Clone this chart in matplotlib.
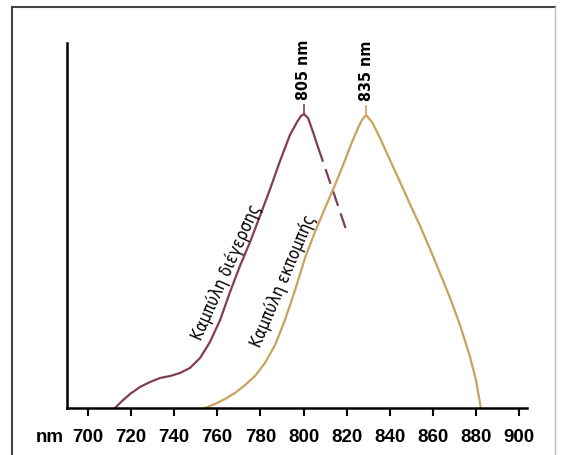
import numpy as np
from matplotlib import pyplot as plt
from matplotlib.lines import Line2D

# Excitation curve (solid part), nm / relative intensity
exc_nm = [712.5, 715.8, 719.5, 724.1, 728.8, 733.4, 738.1, 742.7, 747.3, 752.0, 756.6, 761.3,
          765.9, 770.5, 775.2, 779.8, 784.5, 789.1, 793.7, 797.0, 798.8, 800.2, 802.1, 804.4, 806.7]
exc_val = [0, 7, 14, 21, 26, 30, 32, 35, 40, 50, 66, 88,
           116, 142, 166, 192, 219, 247, 273, 286, 292, 294, 290, 276, 261]
# Excitation curve, dashed tail
exc_tail_nm = [806.7, 813.7, 820.6]
exc_tail_val = [261, 217, 173]

# Emission curve
emi_nm = [754.3, 758.9, 763.6, 768.2, 772.9, 777.5, 782.1, 786.8, 791.4, 796.1, 800.7, 805.3,
          810.0, 814.6, 819.3, 822.5, 825.3, 827.1, 829.0, 831.8, 835.5, 840.1, 844.8, 849.4,
          854.1, 858.7, 863.3, 868.0, 872.6, 877.3, 880.0, 882.3]
emi_val = [0, 4, 9, 15, 23, 32, 45, 63, 88, 118, 150, 176,
           200, 223, 248, 266, 280, 288, 293, 286, 270, 248, 226, 204,
           182, 159, 135, 110, 83, 51, 28, 0]

x_ticks = [700, 720, 740, 760, 780, 800, 820, 840, 860, 880, 900]
peak_labels = ["805 nm", "835 nm"]
curve_labels = ["Καμπύλη διέγερσης", "Καμπύλη εκπομπής"]

c_exc = "#823d55"
c_emi = "#c9a35c"
narrow = ["DejaVu Sans", "Liberation Sans"]

fig = plt.figure(figsize=(5.61, 4.55), dpi=100)
ax = fig.add_axes([67 / 561, 47 / 455, 460 / 561, 365 / 455])

ax.plot(exc_nm, exc_val, color=c_exc, lw=1.6, solid_joinstyle="round", solid_capstyle="round")
ax.plot(exc_tail_nm, exc_tail_val, color=c_exc, lw=1.6, dashes=(7, 3.5))
ax.plot(emi_nm, emi_val, color=c_emi, lw=1.6, solid_joinstyle="round", solid_capstyle="round")

# peak marks and labels
for nm, val, lab, col in [(exc_nm[int(np.argmax(exc_val))], max(exc_val), peak_labels[0], c_exc),
                          (emi_nm[int(np.argmax(emi_val))], max(emi_val), peak_labels[1], c_emi)]:
    ax.plot([nm, nm], [val, val + 9], color=col, lw=1.2)
    ax.text(nm, val + 14, lab, rotation=90, ha="center", va="bottom",
            fontsize=11.5, fontweight="bold", fontstretch="condensed", family=narrow)

ax.text(764.3, 136, curve_labels[0], rotation=66, ha="center", va="center",
        rotation_mode="anchor", fontsize=12, fontstretch="condensed", family=narrow)
ax.text(790.5, 127, curve_labels[1], rotation=67, ha="center", va="center",
        rotation_mode="anchor", fontsize=12, fontstretch="condensed", family=narrow)

ax.set_xlim(690.26, 903.7)
ax.set_ylim(0, 365)
ax.set_xticks(x_ticks)
ax.set_xticklabels([str(t) for t in x_ticks], fontsize=13.5, fontweight="bold",
                   family=["Liberation Sans", "DejaVu Sans"])
ax.set_yticks([])
ax.tick_params(axis="x", direction="out", length=6, width=1.5, pad=9)
for s in ["top", "right"]:
    ax.spines[s].set_visible(False)
for s in ["left", "bottom"]:
    ax.spines[s].set_linewidth(1.8)
    ax.spines[s].set_color("black")
ax.patch.set_alpha(0)

fig.text(50 / 561, 1 - 438 / 455, "nm", ha="center", va="center", fontsize=13.5,
         fontweight="bold", family=["Liberation Sans", "DejaVu Sans"])

# outer frame
fig.add_artist(Line2D([12 / 561, 12 / 561], [0, 1 - 7 / 455], color="#444444", lw=1.5))
fig.add_artist(Line2D([12 / 561, 555 / 561], [1 - 7 / 455, 1 - 7 / 455], color="#444444", lw=1.5))
fig.add_artist(Line2D([555 / 561, 555 / 561], [0, 1 - 7 / 455], color="#bbbbbb", lw=1.0))

fig.savefig("out.png", dpi=100)
